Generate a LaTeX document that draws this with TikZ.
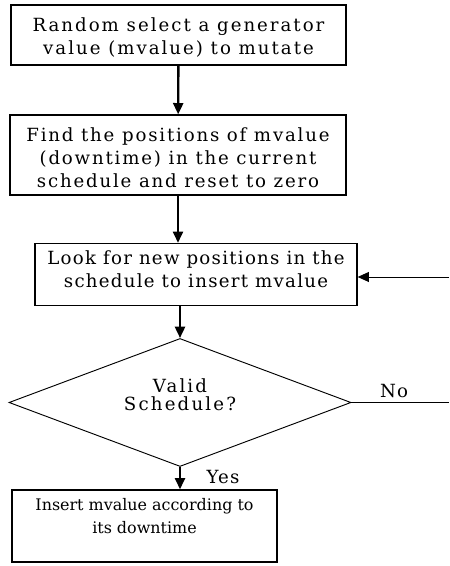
\documentclass[tikz,border=0pt]{standalone}
\usepackage{fontspec}
\setmainfont{DejaVu Serif}
\usetikzlibrary{shapes.geometric,arrows.meta}
\newcommand{\lift}[2]{\raisebox{#1}[0pt][0pt]{\begin{tabular}{@{}c@{}}#2\end{tabular}}}
\begin{document}
\begin{tikzpicture}[x=0.03cm, y=0.03cm,
  txt/.style={font=\fontsize{15.5}{19.5}\selectfont\addfontfeatures{LetterSpace=#1}},
  txt/.default=6,
  stepbox/.style={draw, line width=1.1pt, inner sep=0pt},
  flow/.style={-{Triangle[length=0.34cm,width=0.3cm]}, line width=2pt}]
\useasboundingbox (0,0) rectangle (449,566);

\node[stepbox, txt=11, minimum width=10.05cm, minimum height=1.8cm] (pick) at (178.5,531) {\lift{-6.3pt}{Random select a generator\\value (mvalue) to mutate}};
\node[stepbox, txt=10, minimum width=10.08cm, minimum height=2.4cm] (find) at (178,411) {\lift{-8pt}{Find the positions of mvalue\\(downtime) in the current\\schedule and reset to zero}};
\node[stepbox, txt=7, minimum width=9.66cm, minimum height=1.86cm] (look) at (196,291.5) {\lift{-1.2pt}{Look for new positions in the\\schedule to insert mvalue}};
\node[diamond, draw, line width=0.8pt, inner sep=0pt, font=\fontsize{15.5}{14.5}\selectfont\addfontfeatures{LetterSpace=12}, minimum width=10.26cm, minimum height=3.84cm] (valid) at (180,163.5) {\lift{1pt}{Valid\\Schedule?}};
\node[stepbox, font=\fontsize{13.6}{19.5}\selectfont, minimum width=7.95cm, minimum height=2.16cm] (insert) at (144.5,40) {\lift{3.6pt}{Insert mvalue according to\\its downtime}};

\coordinate (noend) at (449,163.5);
\coordinate (back) at (449,289);

\draw[flow] (pick) -- (find);
\draw[flow] (find.south) -- (find.south |- look.north);
\draw[flow] (look.south -| valid.north) -- (valid.north);
\draw[flow] (valid.south) -- (valid.south |- insert.north);
\draw[line width=0.8pt] (valid.east) -- (noend);
\draw[-{Triangle[length=0.34cm,width=0.3cm]}, line width=0.8pt] (back) -- (back -| look.east);

\node[txt] at (394,175) {No};
\node[txt] at (223,89) {Yes};

\end{tikzpicture}
\end{document}
